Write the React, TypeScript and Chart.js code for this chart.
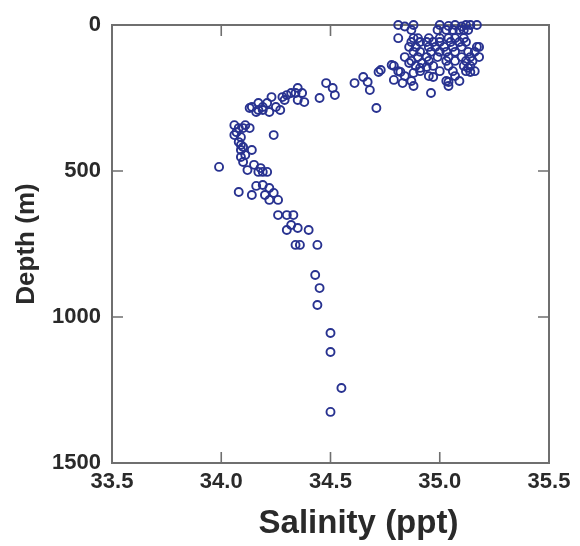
import React, { useEffect, useRef } from "react";
import { Chart, registerables } from "chart.js";

Chart.register(...registerables);

// Salinity (ppt) and depth (m) pairs
const salinity: number[] = [
  // surface cluster
  34.81, 34.84, 34.88, 35.0, 35.04, 35.07, 35.1, 35.12, 35.14, 35.17,
  34.87, 34.99, 35.03, 35.06, 35.09, 35.11, 35.13,
  34.81, 34.88, 34.9, 34.95, 35.0, 35.04, 35.07, 35.11,
  34.87, 34.91, 34.94, 34.97, 35.0, 35.05, 35.09, 35.12,
  34.86, 34.89, 34.95, 34.98, 35.02, 35.06, 35.1, 35.18,
  34.88, 34.91, 34.96, 35.0, 35.03, 35.07, 35.13, 35.16,
  34.84, 34.9, 34.94, 34.99, 35.04, 35.1, 35.14, 35.18,
  34.87, 34.95, 35.03, 35.07, 35.12, 35.15,
  34.79, 34.89, 34.97, 35.04, 35.11, 35.14,
  34.81, 34.91, 35.0, 35.06, 35.12, 35.16,
  34.84, 34.95, 35.07,
  34.87, 35.03, 35.09,
  34.88, 35.04,
  // upper slope
  34.96, 35.04, 35.13, 35.14, 35.17, 34.71,
  34.28, 34.32, 34.35, 34.37, 34.38, 34.45, 34.48, 34.51, 34.52,
  34.61, 34.65, 34.67, 34.68, 34.72, 34.73, 34.78, 34.79, 34.82, 34.83,
  34.86, 34.88, 34.91, 34.92, 34.94, 34.97,
  34.27, 34.19, 34.17, 34.14, 34.13, 34.16, 34.19, 34.21, 34.23, 34.25,
  34.3, 34.34, 34.35, 34.17, 34.22, 34.29,
  // intermediate column
  34.06, 34.08, 34.1, 34.13, 34.06, 34.09, 34.08, 34.1, 34.09, 34.24,
  34.14, 34.09, 34.1, 34.15, 34.17, 34.12, 34.21, 33.99,
  34.07, 34.11, 34.09, 34.11, 34.18, 34.19,
  34.08, 34.14, 34.19, 34.22, 34.24, 34.22, 34.26, 34.16, 34.2,
  34.26, 34.3, 34.33, 34.3, 34.32, 34.4, 34.35, 34.34, 34.36, 34.44,
  // deep
  34.43, 34.45, 34.44, 34.5, 34.5, 34.55, 34.5,
];

const depth: number[] = [
  0, 5, 0, 0, 3, 0, 5, 0, 0, 0,
  17, 17, 17, 17, 17, 17, 17,
  45, 45, 45, 45, 45, 45, 45, 45,
  58, 58, 58, 58, 58, 58, 58, 58,
  75, 75, 75, 75, 75, 75, 75, 75,
  92, 92, 92, 92, 92, 92, 92, 92,
  110, 110, 110, 110, 110, 110, 110, 110,
  123, 123, 123, 123, 123, 123,
  140, 140, 140, 140, 140, 140,
  158, 158, 158, 158, 158, 158,
  175, 175, 175,
  192, 192, 192,
  209, 209,
  233, 195, 147, 161, 75, 284,
  247, 233, 216, 233, 264, 250, 199, 216, 240,
  199, 178, 195, 223, 161, 154, 137, 188, 161, 199,
  130, 164, 147, 130, 144, 178,
  291, 281, 291, 281, 284, 298, 291, 267, 247, 281,
  240, 233, 257, 267, 298, 257,
  343, 353, 353, 353, 377, 384, 401, 418, 428, 377,
  428, 452, 469, 479, 503, 497, 503, 486,
  367, 343, 411, 445, 490, 503,
  572, 582, 548, 558, 575, 599, 599, 551, 582,
  651, 651, 651, 702, 685, 702, 695, 753, 753, 753,
  856, 901, 959, 1055, 1120, 1243, 1325,
];

const xTicks: number[] = [33.5, 34.0, 34.5, 35.0, 35.5];
const yTicks: number[] = [0, 500, 1000, 1500];

const xTitle = "Salinity (ppt)";
const yTitle = "Depth (m)";

const FONT = "'Liberation Sans', Arial, Helvetica, sans-serif";
const FRAME = "#6f6f6f";
const MARK = "#283290";

export default function App() {
  const ref = useRef<HTMLCanvasElement | null>(null);

  useEffect(() => {
    document.body.style.margin = "0";
    const points = salinity.map((s, i) => ({ x: s, y: depth[i] }));

    const framePlugin = {
      id: "frameTicks",
      beforeDatasetsDraw(chart: any) {
        const { ctx, chartArea } = chart;
        const { left, right, top, bottom } = chartArea;
        const xs = chart.scales.x;
        const ys = chart.scales.y;
        ctx.save();
        ctx.strokeStyle = FRAME;
        ctx.lineWidth = 2;
        ctx.strokeRect(left, top, right - left, bottom - top);
        const tl = 11;
        ctx.lineWidth = 1.6;
        ctx.beginPath();
        xTicks.forEach((v) => {
          const px = xs.getPixelForValue(v);
          if (px <= left + 1 || px >= right - 1) return;
          ctx.moveTo(px, bottom);
          ctx.lineTo(px, bottom - tl);
          ctx.moveTo(px, top);
          ctx.lineTo(px, top + tl);
        });
        yTicks.forEach((v) => {
          const py = ys.getPixelForValue(v);
          if (py <= top + 1 || py >= bottom - 1) return;
          ctx.moveTo(left, py);
          ctx.lineTo(left + tl, py);
          ctx.moveTo(right, py);
          ctx.lineTo(right - tl, py);
        });
        ctx.stroke();
        ctx.restore();
      },
      afterDraw(chart: any) {
        const { ctx, chartArea } = chart;
        ctx.save();
        ctx.fillStyle = "#2a2a2a";
        ctx.textAlign = "center";
        ctx.textBaseline = "middle";
        ctx.font = `bold 33px ${FONT}`;
        ctx.fillText(xTitle, (chartArea.left + chartArea.right) / 2 + 28, chartArea.bottom + 61);
        ctx.translate(27, (chartArea.top + chartArea.bottom) / 2);
        ctx.rotate(-Math.PI / 2);
        ctx.font = `bold 26px ${FONT}`;
        ctx.fillText(yTitle, 0, 0);
        ctx.restore();
      },
    };

    const chart = new Chart(ref.current as HTMLCanvasElement, {
      type: "scatter",
      data: {
        datasets: [
          {
            data: points,
            pointStyle: "circle",
            pointRadius: 4,
            pointBorderWidth: 1.9,
            borderColor: MARK,
            backgroundColor: "rgba(0,0,0,0)",
            clip: false,
          } as any,
        ],
      },
      options: {
        animation: false,
        responsive: false,
        layout: { padding: { top: 25, right: 31, left: 0, bottom: 0 } },
        plugins: { legend: { display: false }, tooltip: { enabled: false } },
        scales: {
          x: {
            type: "linear",
            min: 33.5,
            max: 35.5,
            afterBuildTicks: (s: any) => {
              s.ticks = xTicks.map((v) => ({ value: v }));
            },
            afterFit: (s: any) => {
              s.height = 83;
            },
            grid: { display: false, drawTicks: false },
            border: { display: false },
            ticks: {
              padding: 6,
              color: "#2a2a2a",
              font: { family: FONT, size: 22, weight: "bold" },
              maxRotation: 0,
              callback: (v: any) => Number(v).toFixed(1),
            },
          },
          y: {
            type: "linear",
            reverse: true,
            min: 0,
            max: 1500,
            afterBuildTicks: (s: any) => {
              s.ticks = yTicks.map((v) => ({ value: v }));
            },
            afterFit: (s: any) => {
              s.width = 112;
            },
            grid: { display: false, drawTicks: false },
            border: { display: false },
            ticks: {
              padding: 11,
              color: "#2a2a2a",
              font: { family: FONT, size: 22, weight: "bold" },
              callback: (v: any) => String(v),
            },
          },
        },
      } as any,
      plugins: [framePlugin],
    });
    return () => chart.destroy();
  }, []);

  return <canvas ref={ref} width={580} height={546} style={{ display: "block" }} />;
}
